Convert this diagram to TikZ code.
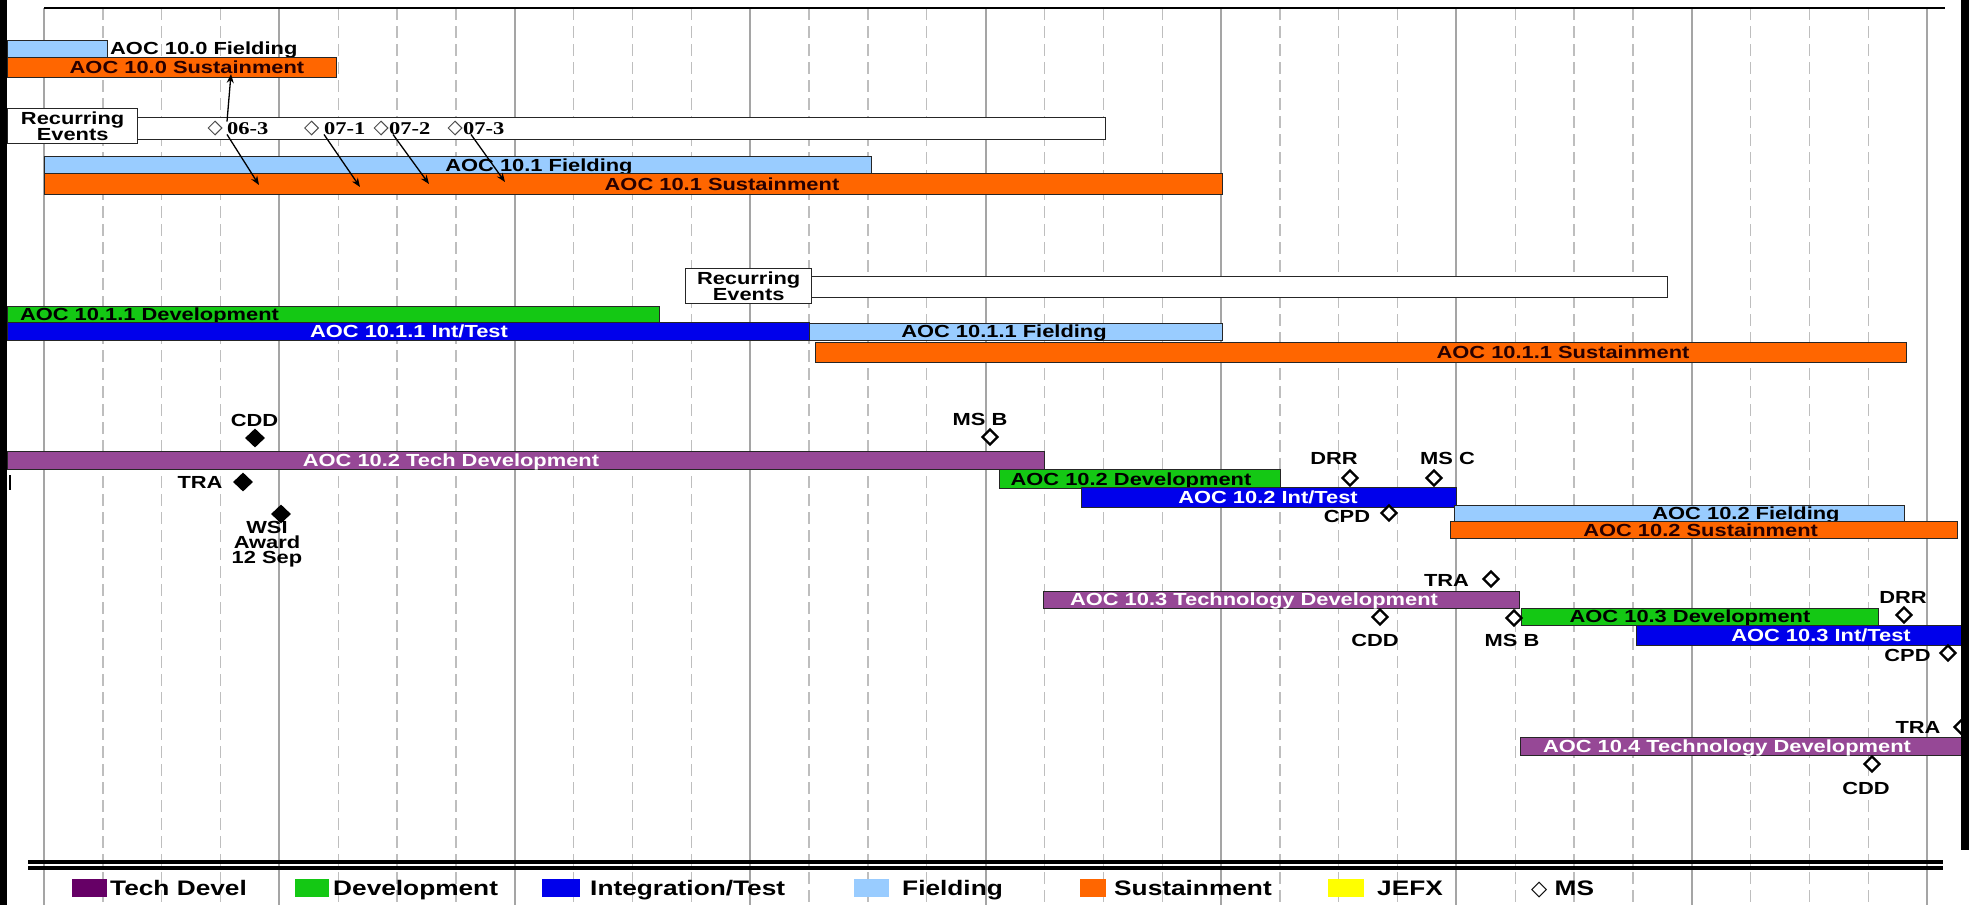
\documentclass[tikz,border=0pt]{standalone}
\usepackage{fontspec}
\setmainfont{Liberation Sans}[FakeStretch=1.25]
\newfontfamily\timesb{Liberation Serif}[FakeStretch=1.25]
\newfontfamily\dejavu{DejaVu Sans}
\usetikzlibrary{arrows.meta,shapes.geometric}
\definecolor{ltblue}{RGB}{153,204,255}
\definecolor{orng}{RGB}{255,102,0}
\definecolor{grn}{RGB}{20,200,20}
\definecolor{blu}{RGB}{0,0,235}
\definecolor{purp}{RGB}{150,72,150}
\definecolor{dpurp}{RGB}{102,0,102}
\definecolor{yel}{RGB}{255,255,0}
\definecolor{gridsolid}{RGB}{165,165,165}
\definecolor{griddash}{RGB}{190,190,190}
\definecolor{dkred}{RGB}{40,0,0}
\newcommand\gbar[6]{\node[bar, fill=#6, minimum width={#4-#2}, minimum height={#5-#3}, anchor=north west] (#1) at (#2,#3) {};}
\tikzset{
  bar/.style={draw=black!85, line width=1.3pt, inner sep=0pt},
  lbl/.style={inner sep=0pt, font=\bfseries\fontsize{17.5}{15}\selectfont, text height=12.5pt, text depth=0pt},
  lblm/.style={inner sep=0pt, font=\bfseries\fontsize{17.5}{15}\selectfont, align=center},
  evlbl/.style={inner sep=0pt, font=\timesb\bfseries\fontsize{18}{18}\selectfont, text height=12.5pt, text depth=0pt, anchor=west},
  msopen/.style={shape=diamond, draw=black, line width=2.4pt, fill=white, minimum width=16pt, minimum height=16pt, inner sep=0pt},
  msfill/.style={shape=diamond, fill=black, minimum width=20pt, minimum height=19pt, inner sep=0pt},
  evd/.style={shape=diamond, draw=black!70, line width=1pt, fill=white, minimum width=14pt, minimum height=14pt, inner sep=0pt},
  arr/.style={-{Stealth[length=9pt,width=7pt]}, line width=1.3pt},
  leg/.style={inner sep=0pt, anchor=west, font=\bfseries\fontsize{21}{21}\selectfont, text height=15pt, text depth=0pt},
  legbox/.style={inner sep=0pt, minimum height=18pt, anchor=west},
  gsolid/.style={gridsolid, line width=2pt},
  gdash/.style={griddash, line width=1.3pt, dash pattern=on 12pt off 6pt}
}
\begin{document}
\begin{tikzpicture}[x=1pt,y=-1pt]
\useasboundingbox (0,0) rectangle (1969,905);
\fill[white] (0,0) rectangle (1969,905);
% grid
\foreach \k in {0,...,8} \draw[gsolid] ({44+235.4*\k},8) -- ({44+235.4*\k},905);
\foreach \k in {0,...,7} \foreach \m in {1,2,3} \draw[gdash] ({44+235.4*\k+58.85*\m},8) -- ({44+235.4*\k+58.85*\m},905);
\draw[line width=1.5pt] (44,8) -- (1945,8);

% AOC 10.0
\gbar{f100}{7}{40}{107}{57}{ltblue}
\node[lbl, anchor=west] (lf100) at (110,48.5) {AOC 10.0 Fielding};
\gbar{s100}{7}{57}{336}{77}{orng}
\node[lbl, text=dkred] (ls100) at (187,67) {AOC 10.0 Sustainment};

% recurring events 1
\gbar{rb1}{137}{117}{1105}{139}{white}
\node[bar, fill=white, minimum width=130, minimum height=35, anchor=north west, align=center, font=\bfseries\fontsize{17.5}{15}\selectfont] (r1) at (7,108) {Recurring\\Events};
\node[evd] (d063) at (215,128) {};
\node[evlbl] (l063) at (227,128) {06-3};
\node[evd] (d071) at (311.5,128) {};
\node[evlbl] (l071) at (324,128) {07-1};
\node[evd] (d072) at (381,128) {};
\node[evlbl] (l072) at (389,128) {07-2};
\node[evd] (d073) at (455,128) {};
\node[evlbl] (l073) at (463,128) {07-3};

% AOC 10.1
\gbar{f101}{44}{156}{871}{173}{ltblue}
\node[lbl] (lf101) at (539,165) {AOC 10.1 Fielding};
\gbar{s101}{44}{173}{1222}{194}{orng}
\node[lbl, text=dkred] (ls101) at (722,184) {AOC 10.1 Sustainment};

% arrows
\coordinate (u063) at (231,74);
\coordinate (a063) at (259,185);
\coordinate (a071) at (360,187);
\coordinate (a072) at (429,184);
\coordinate (a073) at (505,182);
\draw[arr] (l063.north west) -- (u063);
\draw[arr] (l063.south west) -- (a063);
\draw[arr] (l071.south west) -- (a071);
\draw[arr] ([xshift=4pt]l072.south west) -- (a072);
\draw[arr] ([xshift=8pt]l073.south west) -- (a073);

% recurring events 2
\gbar{rb2}{811}{276}{1667}{297}{white}
\node[bar, fill=white, minimum width=126, minimum height=35, anchor=north west, align=center, font=\bfseries\fontsize{17.5}{15}\selectfont] (r2) at (685,268) {Recurring\\Events};

% AOC 10.1.1
\gbar{d1011}{7}{306}{659}{322}{grn}
\node[lbl] (ld1011) at (149.5,314) {AOC 10.1.1 Development};
\gbar{i1011}{7}{322}{809}{340}{blu}
\node[lbl, text=white] (li1011) at (409,331) {AOC 10.1.1 Int/Test};
\gbar{f1011}{809}{323}{1222}{340}{ltblue}
\node[lbl] (lf1011) at (1004,331) {AOC 10.1.1 Fielding};
\gbar{s1011}{815}{342}{1906}{362}{orng}
\node[lbl, text=dkred] (ls1011) at (1563,352) {AOC 10.1.1 Sustainment};

% AOC 10.2
\gbar{t102}{7}{451}{1044}{469}{purp}
\node[lbl, text=white] (lt102) at (451,460) {AOC 10.2 Tech Development};
\node[lbl] (cdd2) at (254.5,420) {CDD};
\node[msfill] (mcdd2) at (255,438) {};
\draw[line width=2pt] (10,475) -- (10,490);
\node[lbl] (tra2) at (200,482) {TRA};
\node[msfill] (mtra2) at (243,482) {};
\node[msfill] (mwsi) at (281,514) {};
\node[lblm] (wsi) at (267,544) {WSI\\Award\\12 Sep};
\node[lbl] (msb2) at (980,419) {MS B};
\node[msopen] (mmsb2) at (990,437) {};
\gbar{d102}{999}{469}{1280}{488}{grn}
\node[lbl] (ld102) at (1131,479) {AOC 10.2 Development};
\gbar{i102}{1081}{487}{1456}{507}{blu}
\node[lbl, text=white] (li102) at (1268,497) {AOC 10.2 Int/Test};
\gbar{f102}{1454}{505}{1904}{521}{ltblue}
\node[lbl] (lf102) at (1746,513) {AOC 10.2 Fielding};
\gbar{s102}{1450}{521}{1957}{538}{orng}
\node[lbl, text=dkred] (ls102) at (1700.6,530) {AOC 10.2 Sustainment};
\node[lbl] (drr2) at (1334,458) {DRR};
\node[msopen] (mdrr2) at (1350,478) {};
\node[lbl] (msc2) at (1447.5,458) {MS C};
\node[msopen] (mmsc2) at (1434,478) {};
\node[lbl] (cpd2) at (1347,516) {CPD};
\node[msopen] (mcpd2) at (1389,513) {};

% AOC 10.3
\gbar{t103}{1043}{591}{1519}{608}{purp}
\node[lbl, text=white] (lt103) at (1254,599.5) {AOC 10.3 Technology Development};
\gbar{d103}{1521}{608}{1878}{625}{grn}
\node[lbl] (ld103) at (1690,616) {AOC 10.3 Development};
\gbar{i103}{1636}{625}{1961}{645}{blu}
\node[lbl, text=white] (li103) at (1821,635) {AOC 10.3 Int/Test};
\node[lbl] (tra3) at (1446.5,580) {TRA};
\node[msopen] (mtra3) at (1491,579) {};
\node[msopen] (mcdd3) at (1380,617) {};
\node[lbl] (cdd3) at (1375,640) {CDD};
\node[msopen] (mmsb3) at (1514,618) {};
\node[lbl] (msb3) at (1512,640) {MS B};
\node[lbl] (drr3) at (1903,597) {DRR};
\node[msopen] (mdrr3) at (1904,615) {};
\node[lbl] (cpd3) at (1907.5,655) {CPD};
\node[msopen] (mcpd3) at (1948,653) {};

% AOC 10.4
\gbar{t104}{1520}{737}{1961}{755}{purp}
\node[lbl, text=white] (lt104) at (1727,746) {AOC 10.4 Technology Development};
\node[lbl] (tra4) at (1918,727) {TRA};
\node[msopen] (mtra4) at (1962,727) {};
\node[msopen] (mcdd4) at (1872,764) {};
\node[lbl] (cdd4) at (1866,788) {CDD};

% legend
\draw[line width=3.5pt] (28,862) -- (1943,862);
\draw[line width=3.5pt] (28,868) -- (1943,868);
\node[legbox, fill=dpurp, minimum width=35] (k1) at (72,888) {};
\node[leg] (t1) at (110,888) {Tech Devel};
\node[legbox, fill=grn, minimum width=34] (k2) at (295,888) {};
\node[leg] (t2) at (333,888) {Development};
\node[legbox, fill=blu, minimum width=38] (k3) at (542,888) {};
\node[leg] (t3) at (590,888) {Integration/Test};
\node[legbox, fill=ltblue, minimum width=35] (k4) at (854,888) {};
\node[leg] (t4) at (902,888) {Fielding};
\node[legbox, fill=orng, minimum width=26] (k5) at (1080,888) {};
\node[leg] (t5) at (1114,888) {Sustainment};
\node[legbox, fill=yel, minimum width=36] (k6) at (1328,888) {};
\node[leg] (t6) at (1377,888) {JEFX};
\node[leg] (t7) at (1531,888) {{\dejavu\mdseries ◇} MS};

% borders
\fill[black] (0,0) rectangle (7,905);
\fill[black] (1961,0) rectangle (1969,850);
\end{tikzpicture}
\end{document}
